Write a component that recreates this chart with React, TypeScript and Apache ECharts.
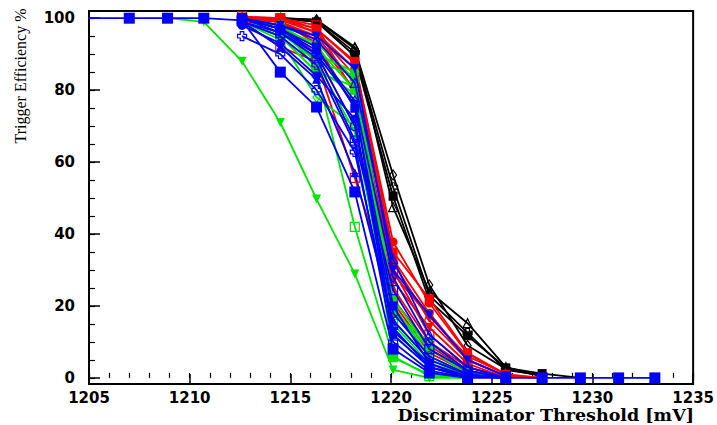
import { useEffect, useRef } from "react";
import * as echarts from "echarts";

// Discriminator thresholds [mV]
const thresholds = [1203.3, 1207.0, 1208.9, 1210.7, 1212.6, 1214.5, 1216.3, 1218.2, 1220.1, 1221.9, 1223.8, 1225.7, 1227.5, 1229.4, 1231.3, 1233.1];
const N = null;

// Axis tick labels
const xMajor = [1205, 1210, 1215, 1220, 1225, 1230, 1235];
const yMajor = [0, 20, 40, 60, 80, 100];
const yMinor = [0, 5, 10, 15, 20, 25, 30, 35, 40, 45, 50, 55, 60, 65, 70, 75, 80, 85, 90, 95, 100];

const black = "#000000";
const red = "#ff0000";
const green = "#00e600";
const blue = "#0000ff";

// Black channels
const k1 = [N, N, N, N, 100, 100, 99.5, 91.5, 56.4, 25.8, 9, 2.5, 0.5, N, N, N];
const k2 = [N, N, N, N, 100, 100, 99, 89.5, 50.5, 21.5, 11.7, 2.8, 1.2, 0, N, N];
const k3 = [N, N, N, N, 100, 100, 99.6, 92, 47.5, 24, 15.2, 3, 0.5, N, N, N];
const k4 = [N, N, N, N, 100, 100, 99, 90.5, 53, 23, 12.5, 2.2, 0.8, N, N, N];

// Red channels
const r1 = [N, N, N, N, 100, 100, 97, 87.5, 37.8, 20.8, 6.7, 1, 0, N, N, N];
const r2 = [N, N, N, N, 100, 99.5, 96, 86, 33, 18, 5, 0.5, 0, N, N, N];
const r3 = [N, N, N, N, 100.5, 100, 98, 78.6, 30, 12, 3, 0.3, 0, N, N, N];
const r4 = [N, N, N, N, 99, 92, 88, 55.6, 22, 9, 2, 0, N, N, N, N];
const r5 = [N, N, N, N, 100, 99, 95, 82, 27, 14, 4, 0, N, N, N, N];
const r6 = [N, N, N, N, 100, 100, 96, 84, 32, 16, 5, 0.5, N, N, N, N];
const r7 = [N, N, N, N, 99.5, 99, 93, 75, 25, 10, 3, 0, N, N, N, N];
const r8 = [N, N, N, N, 100, 99, 94, 80, 29, 17, 6, 1, N, N, N, N];
const r9 = [N, N, N, N, 99, 98, 90, 70, 21, 7, 1.5, 0, N, N, N, N];
const r10 = [N, N, N, N, 100, 100, 97, 88, 35, 22, 7, 1, N, N, N, N];

// Green channels
const g1 = [N, N, 100, 99, 88, 71, 49.7, 28.9, 2.2, 0, 0, N, N, N, N, N];
const g2 = [N, N, N, N, 100, 98, 92, 80, 5.6, 1, 0, N, N, N, N, N];
const g3 = [N, N, N, N, 99, 95, 85, 42, 6, 0.5, 0, N, N, N, N, N];
const g4 = [N, N, N, N, 100, 97, 90, 85, 22, 8, 2, 0, N, N, N, N];
const g5 = [N, N, N, N, 100, 97, 88, 84, 20, 6, 1, 0, N, N, N, N];
const g6 = [N, N, N, N, 99, 96, 88, 68.3, 15, 4, 1, 0, N, N, N, N];
const g7 = [N, N, N, N, 99, 95, 85, 81, 18, 10, 2, 0, N, N, N, N];
const g8 = [N, N, N, N, 100, 98, 86, 79, 16, 5, 1, 0, N, N, N, N];
const g9 = [N, N, N, N, 99, 94, 78, 70, 12, 3, 0.5, 0, N, N, N, N];
const g10 = [N, N, N, N, 100, 97, 93, 83, 19, 8, 1, 0, N, N, N, N];

// Blue channels
const b2 = [N, N, N, N, 100, 97, 92, 75, 20, 4, 0.5, 0, N, N, N, N];
const b3 = [N, N, N, N, 95, 90, 80, 62.8, 14, 3, 0, N, N, N, N, N];
const b4 = [N, N, N, N, 99, 92, 83, 57, 16, 5, 1, 0, N, N, N, N];
const b5 = [N, N, N, N, 100, 98, 95, 86, 30, 17.5, 5, 0.5, N, N, N, N];
const b6 = [N, N, N, N, 100, 96, 89, 66, 24.4, 8, 2, 0, N, N, N, N];
const b7 = [N, N, N, N, 100, 97, 90, 70, 18, 6, 1, 0, N, N, N, N];
const b8 = [N, N, N, N, 98, 93, 84, 72, 12, 3, 0.5, 0, N, N, N, N];
const b9 = [N, N, N, N, 100, 97, 91, 77, 28, 10, 2, 0, N, N, N, N];
const b10 = [N, N, N, N, 99, 95, 87, 65, 10, 2, 0, N, N, N, N, N];
const b11 = [N, N, N, N, 100, 98, 94, 82, 33, 12, 3, 0, N, N, N, N];
const b12 = [N, N, N, N, 99, 96, 90, 76, 13, 4, 0, N, N, N, N, N];
const b1 = [100, 100, 100, 100, 99.4, 85, 75.3, 51.7, 8, 1.4, 0, 0, 0, 0, 0, 0];

type Marker = "fcircle" | "fsquare" | "ftri" | "ftridown" | "ocircle" | "osquare" | "otri" | "odiamond" | "ocross";

const channels: { color: string; marker: Marker; values: (number | null)[] }[] = [
  { color: black, marker: "odiamond", values: k1 },
  { color: black, marker: "fsquare", values: k2 },
  { color: black, marker: "otri", values: k3 },
  { color: black, marker: "ocross", values: k4 },
  { color: red, marker: "fcircle", values: r1 },
  { color: red, marker: "fcircle", values: r2 },
  { color: red, marker: "osquare", values: r3 },
  { color: red, marker: "osquare", values: r4 },
  { color: red, marker: "ftridown", values: r5 },
  { color: red, marker: "ocircle", values: r6 },
  { color: red, marker: "ftri", values: r7 },
  { color: red, marker: "odiamond", values: r8 },
  { color: red, marker: "ocross", values: r9 },
  { color: red, marker: "fsquare", values: r10 },
  { color: green, marker: "ftridown", values: g1 },
  { color: green, marker: "fsquare", values: g2 },
  { color: green, marker: "osquare", values: g3 },
  { color: green, marker: "fcircle", values: g4 },
  { color: green, marker: "ftri", values: g5 },
  { color: green, marker: "osquare", values: g6 },
  { color: green, marker: "ftridown", values: g7 },
  { color: green, marker: "ocircle", values: g8 },
  { color: green, marker: "odiamond", values: g9 },
  { color: green, marker: "ocross", values: g10 },
  { color: blue, marker: "fsquare", values: b2 },
  { color: blue, marker: "ocross", values: b3 },
  { color: blue, marker: "ftri", values: b4 },
  { color: blue, marker: "ftridown", values: b5 },
  { color: blue, marker: "osquare", values: b6 },
  { color: blue, marker: "ocircle", values: b7 },
  { color: blue, marker: "fcircle", values: b8 },
  { color: blue, marker: "odiamond", values: b9 },
  { color: blue, marker: "ocross", values: b10 },
  { color: blue, marker: "otri", values: b11 },
  { color: blue, marker: "ftridown", values: b12 },
  { color: blue, marker: "fsquare", values: b1 },
];

const crossPath = "path://M3,0H7V3H10V7H7V10H3V7H0V3H3Z";

function markerStyle(m: Marker, color: string, main: boolean) {
  const open = m.startsWith("o");
  const itemStyle = open
    ? { color: "rgba(255,255,255,0)", borderColor: color, borderWidth: 1.2 }
    : { color, borderColor: color, borderWidth: 0 };
  let symbol = "circle";
  let symbolSize: any = 9;
  let symbolRotate = 0;
  if (m === "fsquare" || m === "osquare") { symbol = "rect"; symbolSize = main ? 11 : 9; }
  if (m === "ftri" || m === "otri") { symbol = "triangle"; symbolSize = 9; }
  if (m === "ftridown") { symbol = "triangle"; symbolSize = 9; symbolRotate = 180; }
  if (m === "odiamond") { symbol = "diamond"; symbolSize = [7, 10]; }
  if (m === "ocross") { symbol = crossPath; symbolSize = 9; }
  return { symbol, symbolSize, symbolRotate, itemStyle };
}

export default function App() {
  const ref = useRef<HTMLDivElement>(null);
  useEffect(() => {
    if (!ref.current) return;
    const chart = echarts.init(ref.current, undefined, { renderer: "svg" });
    const series = channels.map((c, idx) => {
      const main = idx === channels.length - 1;
      const ms = markerStyle(c.marker, c.color, main);
      const data = thresholds
        .map((x, i) => {
          const v = c.values[i];
          if (v == null) return null;
          // the last zero point of non-main channels sits under the main channel's marker
          if (!main && i === 13) return { value: [x, v], symbol: "none" };
          return [x, v];
        })
        .filter((d) => d !== null);
      return {
        type: "line",
        name: "ch" + idx,
        data,
        xAxisIndex: 0,
        yAxisIndex: 0,
        clip: true,
        z: 2 + idx * 0.01,
        symbol: ms.symbol,
        symbolSize: ms.symbolSize,
        symbolRotate: ms.symbolRotate,
        showAllSymbol: true,
        lineStyle: { color: c.color, width: 1.8 },
        itemStyle: ms.itemStyle,
        emphasis: { disabled: true },
      };
    });
    const labelFont = { fontFamily: "DejaVu Sans", fontWeight: "bold", fontSize: 15, color: "#000" };
    chart.setOption({
      animation: false,
      backgroundColor: "#fff",
      grid: { left: 89, right: 23, top: 11, bottom: 41, show: true, borderColor: "#000", borderWidth: 2, backgroundColor: "transparent" },
      xAxis: [
        {
          type: "value", min: 1205, max: 1235, interval: 5, position: "bottom",
          axisLine: { show: true, onZero: false, lineStyle: { color: "#000", width: 2 } },
          axisTick: { show: true, inside: true, length: 10, lineStyle: { color: "#000", width: 1.5 } },
          axisLabel: { ...labelFont, margin: 6, customValues: xMajor, formatter: (v: number) => String(v) },
          splitLine: { show: false },
        },
        {
          type: "value", min: 1205, max: 1235, interval: 1, position: "bottom",
          axisLine: { show: false },
          axisTick: { show: true, inside: true, length: 5, lineStyle: { color: "#000", width: 1.2 } },
          axisLabel: { show: false },
          splitLine: { show: false },
        },
      ],
      yAxis: [
        {
          type: "value", min: -1.7, max: 102, position: "left",
          axisLine: { show: true, onZero: false, lineStyle: { color: "#000", width: 2 } },
          axisTick: { show: true, inside: true, length: 11, customValues: yMajor, lineStyle: { color: "#000", width: 1.5 } },
          axisLabel: { ...labelFont, margin: 14, customValues: yMajor, formatter: (v: number) => String(v) },
          splitLine: { show: false },
        },
        {
          type: "value", min: -1.7, max: 102, position: "left",
          axisLine: { show: false },
          axisTick: { show: true, inside: true, length: 6, customValues: yMinor, lineStyle: { color: "#000", width: 1.2 } },
          axisLabel: { show: false },
          splitLine: { show: false },
        },
      ],
      graphic: [
        {
          type: "text", x: 20, y: 76, rotation: Math.PI / 2,
          style: { text: "Trigger Efficiency %", fontFamily: "Liberation Serif", fontSize: 16, fill: "#000", align: "center", verticalAlign: "middle" },
        },
        {
          type: "text", x: 694, y: 415,
          style: { text: "Discriminator Threshold [mV]", fontFamily: "DejaVu Serif", fontWeight: "bold", fontSize: 17.5, fill: "#000", align: "right", verticalAlign: "middle" },
        },
      ],
      series,
    });
    return () => chart.dispose();
  }, []);
  return <div ref={ref} style={{ width: 717, height: 425, position: "fixed", left: 0, top: 0 }} />;
}
